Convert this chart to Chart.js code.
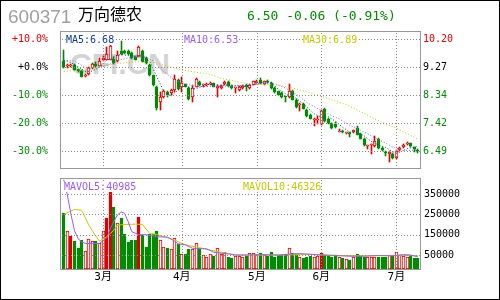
<!DOCTYPE html>
<html>
<head>
<meta charset="utf-8">
<script src="https://cdn.jsdelivr.net/npm/chart.js@4.4.1/dist/chart.umd.min.js"></script>
<style>
html,body{margin:0;padding:0;background:#fff;width:500px;height:300px;overflow:hidden;}
.a{position:absolute;white-space:nowrap;}
#frame{left:0;top:0;width:500px;height:300px;box-sizing:border-box;border:1px solid #000;}
#code{left:8px;top:7px;font:19px/19px "Liberation Sans",Arial,sans-serif;color:#a0a0a0;}
#name{left:78px;top:5px;font:16px/16px "Noto Sans CJK SC",sans-serif;color:#000;}
#quote{left:247px;top:9px;font:13px/13px "DejaVu Sans Mono",monospace;color:#008c00;}
#wm{left:70px;top:49px;font:bold 30px/30px "Liberation Sans",Arial,sans-serif;color:#d4d4d4;}
.lab{font:10px/10px "DejaVu Sans Mono",monospace;background:#fff;}
canvas{position:absolute;left:0;}
</style>
</head>
<body>
<div id="wm" class="a">CFI.CN</div>
<canvas id="cp" width="500" height="172" style="top:0;width:500px;height:172px"></canvas>
<canvas id="cv" width="500" height="128" style="top:172px;width:500px;height:128px"></canvas>
<div id="frame" class="a"></div>
<div id="code" class="a">600371</div>
<div id="name" class="a">万向德农</div>
<div id="quote" class="a">6.50 -0.06 (-0.91%)</div>
<div class="a lab" style="left:66px;top:34.5px;color:#0b3d91">MA5:6.68</div>
<div class="a lab" style="left:184px;top:34.5px;color:#9a5cf5">MA10:6.53</div>
<div class="a lab" style="left:303px;top:34.5px;color:#c8c800">MA30:6.89</div>
<div class="a lab" style="left:64px;top:181.5px;color:#9a5cf5">MAVOL5:40985</div>
<div class="a lab" style="left:243px;top:181.5px;color:#c8c800">MAVOL10:46326</div>
<script>
// ---- data ----
const monthLabels = ['3月','4月','5月','6月','7月'];
const monthIdx = [11, 33, 54, 72, 93];
const basePrice = 9.27;
const priceLabels = ['10.20','9.27','8.34','7.42','6.49'];
const pctLabels = ['+10.0%','+0.0%','-10.0%','-20.0%','-30.0%'];
const volLabels = ['350000','250000','150000','50000'];

const open = [9.46,9.30,9.31,9.35,9.20,9.15,8.99,9.05,9.24,9.37,
  9.32,9.49,9.51,9.51,9.55,9.46,9.81,9.80,9.79,9.74,
  9.60,9.63,9.81,9.56,9.34,9.00,8.62,8.12,8.29,8.45,
  8.40,8.52,8.84,8.60,8.70,8.59,8.27,8.63,8.79,8.67,
  8.67,8.71,8.74,8.59,8.57,8.70,8.79,8.66,8.58,8.52,
  8.57,8.68,8.57,8.69,8.76,8.83,8.71,8.80,8.74,8.58,
  8.47,8.42,8.31,8.30,8.47,8.19,8.02,8.05,7.86,7.70,
  7.53,7.53,7.39,7.90,7.57,7.42,7.39,7.14,7.15,7.08,
  7.10,7.13,7.26,7.06,6.90,6.65,6.70,6.65,6.90,6.60,
  6.44,6.40,6.40,6.27,6.52,6.62,6.74,6.76,6.62,6.54];
const high = [9.85,9.38,9.36,9.37,9.22,9.17,9.05,9.27,9.40,9.45,
  9.57,9.63,9.92,10.07,9.62,9.79,10.14,9.83,9.82,9.76,
  9.63,9.96,9.85,9.60,9.38,9.02,8.65,8.45,8.50,8.48,
  8.55,9.01,8.88,8.96,8.72,8.62,8.68,8.90,8.82,8.72,
  8.73,8.78,8.76,8.68,8.67,8.81,8.81,8.68,8.63,8.65,
  8.68,8.70,8.70,8.82,8.86,8.90,8.82,8.84,8.77,8.60,
  8.49,8.46,8.33,8.71,8.50,8.21,8.08,8.07,7.88,7.72,
  7.58,7.64,7.84,7.92,7.59,7.44,7.46,7.21,7.18,7.13,
  7.12,7.20,7.31,7.08,6.92,6.70,6.74,6.98,6.93,6.62,
  6.51,6.49,6.42,6.53,6.62,6.72,6.80,6.78,6.64,6.57];
const low = [9.25,9.25,9.27,9.16,9.11,8.93,8.94,9.02,9.22,9.28,
  9.30,9.46,9.49,9.49,9.37,9.44,9.68,9.70,9.68,9.55,
  9.49,9.60,9.43,9.38,8.98,8.64,7.85,7.85,8.25,8.30,
  8.36,8.46,8.52,8.46,8.60,8.20,8.13,8.60,8.65,8.63,
  8.64,8.68,8.61,8.30,8.54,8.68,8.63,8.56,8.40,8.49,
  8.55,8.48,8.55,8.67,8.74,8.72,8.69,8.76,8.56,8.43,
  8.34,8.24,8.12,8.25,8.17,7.93,7.81,7.88,7.62,7.55,
  7.31,7.39,7.37,7.46,7.40,7.24,7.26,7.12,7.10,7.05,
  6.97,7.11,7.02,6.89,6.67,6.55,6.40,6.63,6.58,6.50,
  6.32,6.13,6.25,6.25,6.50,6.60,6.70,6.63,6.47,6.45];
const close = [9.27,9.32,9.33,9.18,9.15,8.96,9.01,9.24,9.36,9.31,
  9.48,9.57,9.70,9.96,9.40,9.68,9.71,9.74,9.71,9.57,
  9.52,9.94,9.45,9.40,9.00,8.67,7.93,8.29,8.48,8.34,
  8.52,8.89,8.56,8.73,8.63,8.22,8.57,8.87,8.68,8.69,
  8.69,8.76,8.63,8.66,8.65,8.79,8.66,8.59,8.60,8.63,
  8.66,8.63,8.68,8.80,8.82,8.74,8.80,8.78,8.58,8.45,
  8.36,8.30,8.29,8.49,8.19,7.95,8.04,7.90,7.64,7.57,
  7.55,7.55,7.81,7.48,7.42,7.26,7.28,7.17,7.13,7.10,
  7.07,7.18,7.04,6.91,6.69,6.66,6.71,6.82,6.60,6.52,
  6.43,6.47,6.27,6.51,6.60,6.70,6.76,6.66,6.56,6.50];
const vol = [255000,168000,143500,118900,84400,122100,69700,127100,118900,118900,
  107400,168000,232000,381200,286100,205800,232000,154900,113900,123800,
  123800,236900,146700,89400,154900,151700,168000,123800,89400,84400,
  81100,135300,102500,56600,53300,81100,79400,107100,79400,50000,
  41800,53300,46700,82600,54900,63000,41800,37000,46700,46700,
  41800,46700,61400,58200,50000,58200,50000,46700,63000,41800,
  50000,50000,53300,82600,58200,53300,41800,37000,41800,45100,
  41800,45100,58200,50000,45100,41800,50000,41800,37000,30400,
  25500,41800,54900,46700,41800,41800,41800,41800,41800,41800,
  41800,50000,50000,63000,50000,46700,41800,46700,37000,37000];
const solidRedVol = [2, 12, 13, 21, 72];

const ma5Idx = [0,2,4,6,8,10,12,14,16,18,20,22,24,26,28,30,32,34,36,38,40,42,44,46,48,50,52,54,56,58,60,62,64,66,68,70,72,74,76,78,80,82,84,86,88,90,92,94,96,99];
const ma5 = [9.50,9.42,9.28,9.13,9.14,9.27,9.49,9.62,9.69,9.65,9.63,9.64,9.46,8.96,8.47,8.31,8.52,8.67,8.54,8.60,8.70,8.69,8.67,8.68,8.66,8.63,8.66,8.72,8.78,8.75,8.54,8.39,8.32,8.15,7.95,7.73,7.62,7.63,7.48,7.28,7.12,7.12,7.00,6.81,6.70,6.62,6.47,6.46,6.58,6.66];
const ma10Idx = [0,3,6,9,12,14,16,19,22,25,28,31,34,37,41,46,52,56,59,62,65,68,71,74,77,80,83,86,89,92,95,99];
const ma10 = [9.50,9.47,9.26,9.25,9.33,9.42,9.52,9.60,9.63,9.48,9.12,8.84,8.72,8.63,8.63,8.64,8.68,8.74,8.72,8.58,8.38,8.10,7.90,7.72,7.56,7.35,7.19,7.00,6.82,6.63,6.52,6.53];
const ma30Idx = [0,5,10,15,20,23,26,29,33,37,41,44,48,52,57,61,66,71,75,79,83,87,90,93,96,99];
const ma30 = [9.13,9.18,9.30,9.39,9.44,9.45,9.40,9.31,9.17,9.10,9.03,8.90,8.80,8.71,8.69,8.66,8.52,8.35,8.19,8.03,7.80,7.56,7.40,7.25,7.07,6.89];
const mavol5Idx = [0,1,2,3,4,5,6,10,12,13,15,16,17,18,19,21,23,26,29,31,32,34,36,40,42,46,48,52,55,60,65,68,72,76,80,84,88,92,95,97,99];
const mavol5 = [420000,345000,250000,170000,130000,115000,107000,107000,134000,180000,247000,262000,255000,214000,165000,150000,150000,140000,138000,118000,105000,100000,83000,80000,63000,55000,50000,50000,52000,50000,57000,55000,50000,47000,44000,44000,48000,46000,52000,50000,41000];
const mavol10Idx = [0,2,3,5,7,9,10,12,14,15,17,20,22,24,26,28,31,33,35,38,42,46,48,52,55,60,65,70,75,80,85,90,95,99];
const mavol10 = [249000,266000,274000,270000,197000,140000,118000,140000,172000,197000,200000,202000,200000,156000,151000,140000,124000,107000,96000,86000,70000,58000,50000,50000,50000,50000,52000,52000,49000,47000,46000,47000,48000,46300];

// ---- layout / style ----
const X_MIN = -1.063, X_MAX = 99.61;
const P_MIN = 5.938, P_MAX = 10.464;
const V_MIN = -18850, V_MAX = 428700;
const RED = '#e00000', GREEN = '#008c00', BLACK = '#000000', GRID = '#8c8c8c';
const MA5C = '#0b3d91', MA10C = '#9a5cf5', MA30C = '#c8c800';
const MONO = '"DejaVu Sans Mono", monospace';

const priceTicks = priceLabels.map(Number);
const volTicks = volLabels.map(Number);
const isUp = i => close[i] >= open[i];
const pts = (idx, vals) => idx.map((x, k) => ({x: x, y: vals[k]}));
const tickColor = v => v > basePrice + 1e-6 ? RED : (v < basePrice - 1e-6 ? GREEN : BLACK);

function makeSnap() {
  return {
    id: 'snap',
    beforeDatasetsDraw(chart) {
      chart.data.datasets.forEach((ds, i) => {
        const meta = chart.getDatasetMeta(i);
        if (meta.type !== 'bar') return;
        meta.data.forEach(el => {
          el.x = Math.floor(el.x) + 0.5;
          el.y = Math.round(el.y);
          el.base = Math.round(el.base);
        });
      });
    }
  };
}
function dotGrid(chart) {
  const {ctx, chartArea: a, scales} = chart;
  ctx.save();
  ctx.fillStyle = GRID;
  Object.values(scales).forEach(s => {
    if (s.options.grid.display === false) return;
    s.ticks.forEach(t => {
      const p = Math.round(s.getPixelForValue(t.value));
      if (s.isHorizontal()) {
        for (let y = a.top + 2; y < a.bottom; y += 3) ctx.fillRect(p, y, 1, 1);
      } else {
        for (let x = a.left + 2; x < a.right; x += 3) ctx.fillRect(x, p, 1, 1);
      }
    });
  });
  ctx.restore();
}
function makeFrame() {
  return {
    id: 'gridFrame',
    afterDatasetsDraw(chart) { dotGrid(chart); },
    afterDraw(chart) {
      const {ctx, chartArea: a} = chart;
      ctx.save();
      ctx.strokeStyle = '#999';
      ctx.lineWidth = 1;
      ctx.strokeRect(a.left + 0.5, a.top + 0.5, a.right - a.left, a.bottom - a.top);
      ctx.restore();
    }
  };
}

function xAxis(showLabels) {
  return {
    type: 'linear', min: X_MIN, max: X_MAX, offset: false, bounds: 'data',
    afterBuildTicks: s => { s.ticks = monthIdx.map(v => ({value: v})); },
    grid: {drawOnChartArea: false, drawTicks: false, offset: false},
    border: {display: false},
    ticks: {display: showLabels, autoSkip: false, maxRotation: 0, padding: 2, color: '#000',
      font: {family: '"DejaVu Sans Mono", "Noto Sans CJK SC", sans-serif', size: 11},
      callback: (v, i) => monthLabels[i]},
    afterFit: s => { s.height = showLabels ? 31 : 0; s.paddingLeft = 0; s.paddingRight = 0; }
  };
}

const lineDs = (label, data, color, dash) => ({
  type: 'line', label, data, borderColor: color, borderWidth: 1,
  borderDash: dash, pointRadius: 0, fill: false, tension: 0, order: 0
});

new Chart(document.getElementById('cp'), {
  type: 'bar',
  data: {
    datasets: [
      lineDs('MA5', pts(ma5Idx, ma5), MA5C, [1, 2]),
      lineDs('MA10', pts(ma10Idx, ma10), MA10C, [1, 2]),
      lineDs('MA30', pts(ma30Idx, ma30), MA30C, [1, 2]),
      {
        type: 'bar', label: 'body', order: 1, grouped: false,
        data: open.map((o, i) => ({x: i, y: [Math.min(o, close[i]), Math.max(o, close[i])]})),
        backgroundColor: open.map((o, i) => isUp(i) ? '#ffffff' : GREEN),
        borderColor: open.map((o, i) => isUp(i) ? RED : GREEN),
        borderWidth: 1, borderSkipped: false, barThickness: 3, minBarLength: 1
      },
      {
        type: 'bar', label: 'wick', order: 2, grouped: false,
        data: open.map((o, i) => ({x: i, y: [low[i], high[i]]})),
        backgroundColor: open.map((o, i) => isUp(i) ? RED : GREEN),
        borderWidth: 0, barThickness: 1, minBarLength: 1
      }
    ]
  },
  options: {
    responsive: false, animation: false, events: [],
    layout: {padding: {top: 31, bottom: 4, left: 0, right: 0}},
    plugins: {legend: {display: false}, tooltip: {enabled: false}},
    scales: {
      x: xAxis(false),
      y: {
        position: 'left', min: P_MIN, max: P_MAX, bounds: 'data',
        afterBuildTicks: s => { s.ticks = priceTicks.map(v => ({value: v})); },
        grid: {drawOnChartArea: false, drawTicks: false},
        border: {display: false},
        ticks: {padding: 12, font: {family: MONO, size: 10},
          color: c => tickColor(c.tick.value), callback: (v, i) => pctLabels[i]},
        afterFit: s => { s.width = 60; s.paddingTop = 0; s.paddingBottom = 0; }
      },
      y2: {
        position: 'right', min: P_MIN, max: P_MAX, bounds: 'data',
        afterBuildTicks: s => { s.ticks = priceTicks.map(v => ({value: v})); },
        grid: {display: false, drawTicks: false},
        border: {display: false},
        ticks: {padding: 3, font: {family: MONO, size: 10},
          color: c => tickColor(c.tick.value), callback: (v, i) => priceLabels[i]},
        afterFit: s => { s.width = 80; s.paddingTop = 0; s.paddingBottom = 0; }
      }
    }
  },
  plugins: [makeSnap(), makeFrame()]
});

new Chart(document.getElementById('cv'), {
  type: 'bar',
  data: {
    datasets: [
      lineDs('MAVOL5', pts(mavol5Idx, mavol5), MA10C, []),
      lineDs('MAVOL10', pts(mavol10Idx, mavol10), MA30C, []),
      {
        type: 'bar', label: 'VOL', order: 1, grouped: false,
        data: vol.map((v, i) => ({x: i, y: v})),
        base: V_MIN,
        backgroundColor: vol.map((v, i) => isUp(i) ? (solidRedVol.includes(i) ? RED : '#ffffff') : GREEN),
        borderColor: vol.map((v, i) => isUp(i) ? RED : GREEN),
        borderWidth: 1, borderSkipped: false, barThickness: 3
      }
    ]
  },
  options: {
    responsive: false, animation: false, events: [],
    layout: {padding: {top: 6, bottom: 0, left: 60, right: 0}},
    plugins: {legend: {display: false}, tooltip: {enabled: false}},
    scales: {
      x: xAxis(true),
      y: {
        position: 'right', min: V_MIN, max: V_MAX, bounds: 'data',
        afterBuildTicks: s => { s.ticks = volTicks.map(v => ({value: v})); },
        grid: {drawOnChartArea: false, drawTicks: false},
        border: {display: false},
        ticks: {padding: 4, font: {family: MONO, size: 10}, color: '#000',
          callback: (v, i) => volLabels[i]},
        afterFit: s => { s.width = 80; s.paddingTop = 0; s.paddingBottom = 0; }
      }
    }
  },
  plugins: [makeSnap(), makeFrame()]
});
</script>
</body>
</html>
